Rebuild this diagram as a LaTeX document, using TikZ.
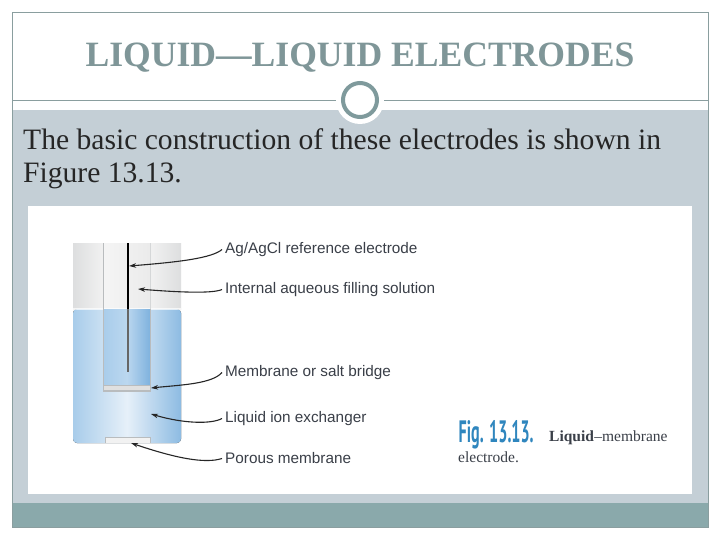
\documentclass[tikz,border=0pt]{standalone}
\usepackage{fontspec}
\usepackage{graphicx}
\setmainfont{Liberation Serif}
\newfontfamily\labelfont{Liberation Sans}
\newfontfamily\figfont{PT Sans}
\usetikzlibrary{arrows.meta}
\definecolor{framec}{HTML}{8A9E9F}
\definecolor{titlec}{HTML}{7F9698}
\definecolor{bandc}{HTML}{C4CFD6}
\definecolor{footc}{HTML}{8AA9AB}
\definecolor{ringc}{HTML}{7F9A9C}
\definecolor{liqA}{HTML}{A8CCEA}
\definecolor{liqB}{HTML}{E6F0F9}
\definecolor{liqC}{HTML}{8DBBE2}
\definecolor{inA}{HTML}{A9CDEB}
\definecolor{inM}{HTML}{BBD7EF}
\definecolor{inB}{HTML}{7FB2DE}
\definecolor{glassA}{HTML}{DDDEDF}
\definecolor{glassB}{HTML}{F1F1F1}
\definecolor{wallc}{HTML}{B9BCBE}
\definecolor{labc}{HTML}{3A3F48}
\definecolor{figc}{HTML}{2F86BE}
\tikzset{
  x=1pt,y=-1pt,
  lab/.style={font=\labelfont\fontsize{15.3}{17}\selectfont,text=labc,anchor=west,inner sep=0pt},
  lead/.style={draw=black!85,line width=1.1pt,-{Stealth[length=7pt,width=4.5pt,inset=2pt]}},
  captext/.style={inner sep=0pt,anchor=base west},
  bodytext/.style={font=\fontsize{29.6}{33}\selectfont,text=black!85,inner sep=0pt,anchor=base west}
}
\begin{document}
\begin{tikzpicture}
\useasboundingbox (0,0) rectangle (720,540);
\fill[white] (0,0) rectangle (720,540);
% slide
\fill[bandc] (12,110) rectangle (708,503);
\fill[footc] (12,503) rectangle (708,527);
\draw[framec,line width=0.8pt] (12,12) rectangle (708,527);
\draw[framec,line width=0.7pt] (12,100) -- (708,100);
\fill[white] (360,100) circle (24);
\node[draw=ringc,line width=4pt,circle,minimum size=34pt,inner sep=0pt,fill=white] (ring) at (360,100) {};
\node[font=\bfseries\fontsize{35.6}{38}\selectfont,text=titlec,inner sep=0pt,anchor=base] (title) at (360,67) {LIQUID---LIQUID ELECTRODES};
\node[bodytext] (b1) at (23,150) {The basic construction of these electrodes is shown in};
\node[bodytext] (b2) at (23,183) {Figure 13.13.};
% picture
\fill[white] (28,206) rectangle (692,494);
% outer tube, glass part
\fill[left color=glassA,right color=glassB] (73,243) rectangle (103,309);
\fill[left color=glassB,right color=glassA] (151,243) rectangle (181,309);
\fill[left color=white!96!black,right color=white!92!black] (103,243) rectangle (151,309);
% liquid
\fill[left color=liqA,right color=liqC,middle color=liqB,rounded corners=4pt]
  (73,309) -- (73,443) -- (181,443) -- (181,309) -- cycle;
\fill[white,opacity=.7] (73,308) rectangle (181,310);
% inner tube
\fill[left color=inA,right color=inB,middle color=inM] (104,309) rectangle (150,385);
\fill[black!12] (104,385) rectangle (150,391);
\draw[wallc,line width=1.2pt] (103.5,243) -- (103.5,391) -- (150.5,391) -- (150.5,309);
\draw[wallc!60!white,line width=.6pt] (150.5,243) -- (150.5,309);
\draw[wallc,line width=.6pt] (104,385) -- (150,385);
% porous membrane
\fill[black!5] (105,437) rectangle (150,443);
\draw[wallc,line width=.5pt] (105,443) -- (105,437) -- (150,437) -- (150,443);
% wire
\draw[black,line width=1.5pt] (128,243) -- (128,309);
\draw[black!60,line width=1.5pt] (128,309) -- (128,372);
% labels
\node[lab] (l1) at (225,249.5) {Ag/AgCl reference electrode};
\node[lab] (l2) at (225,289.5) {Internal aqueous filling solution};
\node[lab] (l3) at (225,372.5) {Membrane or salt bridge};
\node[lab] (l4) at (225,418.5) {Liquid ion exchanger};
\node[lab] (l5) at (225,458.5) {Porous membrane};
\coordinate (t1) at (129,266);
\coordinate (t2) at (138,289);
\coordinate (t3) at (151,388);
\coordinate (t4) at (151,414);
\coordinate (t5) at (131,443);
\draw[lead] (l1.west) ++(-3,0) .. controls (212,258) and (180,262) .. (t1);
\draw[lead] (l2.west) ++(-3,0) .. controls (212,294) and (175,292) .. (t2);
\draw[lead] (l3.west) ++(-3,0) .. controls (212,384) and (180,385) .. (t3);
\draw[lead] (l4.west) ++(-3,0) .. controls (212,424) and (185,424) .. (t4);
\draw[lead] (l5.west) ++(-3,0) .. controls (205,464) and (175,458) .. (t5);
% caption
\node[captext,text=figc] (fig) at (458.5,442) {\figfont\bfseries\resizebox{75pt}{22pt}{Fig. 13.13.}};
\node[captext,text=labc,font=\bfseries\fontsize{15.5}{17}\selectfont] (c1) at (549,441) {Liquid};
\node[captext,text=labc,font=\fontsize{15.5}{17}\selectfont] (c2) at (c1.base east) {--membrane};
\node[captext,text=labc,font=\fontsize{15.5}{17}\selectfont] (c3) at (458,462) {electrode.};
\end{tikzpicture}
\end{document}
